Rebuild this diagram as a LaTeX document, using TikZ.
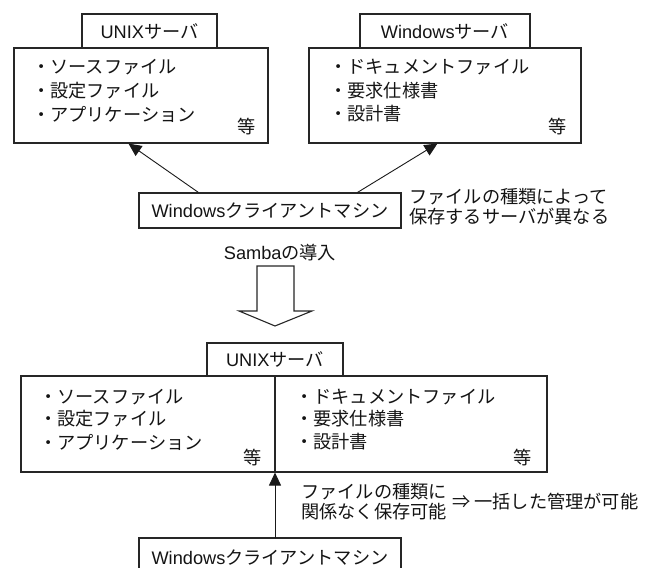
\documentclass[tikz,border=0pt]{standalone}
\usepackage{fontspec}
\setmainfont{Noto Sans CJK JP}
\newfontfamily\lat{Liberation Sans}
\usetikzlibrary{arrows.meta}
\begin{document}
\begin{tikzpicture}[x=1pt,y=-1pt,
  every node/.style={inner sep=0pt, text=black!92, font=\fontsize{18.2}{20}\selectfont},
  box/.style={draw=black!85, line width=1.1pt, fill=white},
  item/.style={anchor=west},
  conn/.style={draw=black!90, line width=0.9pt, -{Triangle[length=13pt,width=12pt]}},
  side/.style={anchor=west, align=left}]
\useasboundingbox (0,0) rectangle (649,568);
\clip (0,0) rectangle (649,568);
% ---------- top: UNIX server ----------
\node[box, minimum width=254pt, minimum height=95pt] (umain) at (141,95.5) {};
\node[box, minimum width=135pt, minimum height=34pt] (ulab) at (149.5,31) {{\lat UNIX}サーバ};
\node[item] (u1) at (32,67) {・ソースファイル};
\node[item] (u2) at (32,91) {・設定ファイル};
\node[item] (u3) at (32,114) {・アプリケーション};
\node (uetc) at (247,127) {等};
% ---------- top: Windows server ----------
\node[box, minimum width=272pt, minimum height=95pt] (wmain) at (445,95.5) {};
\node[box, minimum width=170pt, minimum height=34pt] (wlab) at (445,31) {{\lat Windows}サーバ};
\node[item] (w1) at (329,67) {・ドキュメントファイル};
\node[item] (w2) at (329,91) {・要求仕様書};
\node[item] (w3) at (329,114) {・設計書};
\node (wetc) at (558,127) {等};
% ---------- top: client ----------
\node[box, minimum width=262pt, minimum height=35pt] (cl1) at (270,210.5) {{\lat Windows}クライアントマシン};
\node[side] (note1) at (409,207) {ファイルの種類によって\\保存するサーバが異なる};
\draw[conn] ([xshift=60pt]cl1.north west) -- ([xshift=115pt]umain.south west);
\draw[conn] ([xshift=219pt]cl1.north west) -- ([xshift=129pt]wmain.south west);
% ---------- Samba ----------
\node (samba) at (280,253) {{\lat Samba}の導入};
\draw[draw=black!85, line width=1.1pt, fill=white]
  (257,266) -- (294,266) -- (294,311) -- (312,311) -- (275,326) -- (239,311) -- (257,311) -- cycle;
% ---------- bottom: UNIX server ----------
\node[box, minimum width=526pt, minimum height=96pt] (bmain) at (284,424) {};
\node[box, minimum width=136pt, minimum height=33pt] (blab) at (275,359.5) {{\lat UNIX}サーバ};
\draw[draw=black!85, line width=1.1pt] (blab.south) -- (blab.south |- bmain.south);
\node[item] (b1) at (39,397) {・ソースファイル};
\node[item] (b2) at (39,419) {・設定ファイル};
\node[item] (b3) at (39,442) {・アプリケーション};
\node (betc1) at (253,458) {等};
\node[item] (b4) at (295,397) {・ドキュメントファイル};
\node[item] (b5) at (295,419) {・要求仕様書};
\node[item] (b6) at (295,442) {・設計書};
\node (betc2) at (523,458) {等};
% ---------- bottom: client ----------
\node[box, minimum width=262pt, minimum height=40pt] (cl2) at (270,558) {{\lat Windows}クライアントマシン};
\coordinate (cl2top) at (275,538);
\draw[conn] (cl2top) -- (cl2top |- bmain.south);
\node[side] (note2) at (301,502) {ファイルの種類に\\関係なく保存可能};
\node[anchor=west] (note3) at (452,502) {⇒ 一括した管理が可能};
\end{tikzpicture}
\end{document}
